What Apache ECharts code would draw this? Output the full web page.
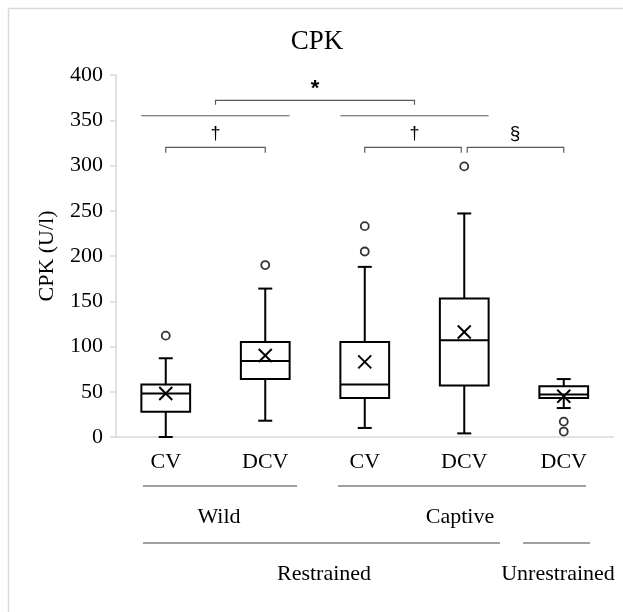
<!DOCTYPE html>
<html>
<head>
<meta charset="utf-8">
<script src="https://cdn.jsdelivr.net/npm/echarts@6/dist/echarts.min.js"></script>
<style>
  html, body { margin: 0; padding: 0; background: #fff; }
  #chart { width: 623px; height: 612px; }
</style>
</head>
<body>
<div id="chart"></div>
<script>
// CPK (U/l) by group: box = quartiles, whiskers, X = mean, circles = outliers
const categories  = ['CV', 'DCV', 'CV', 'DCV', 'DCV'];
const whiskerLow  = [0, 18, 10, 4, 32];
const quartile1   = [28, 64, 43, 57, 43];
const medians     = [48, 84, 58, 107, 47];
const quartile3   = [58, 105, 105, 153, 56];
const whiskerHigh = [87, 164, 188, 247, 64];
const means       = [48, 90, 83, 116, 45];
// [category index, value]
const outliers = [[0, 112], [1, 190], [2, 205], [2, 233], [3, 299], [4, 17], [4, 6]];

const SERIF = '"Liberation Serif", "Times New Roman", serif';
const SANS = '"Liberation Sans", Arial, sans-serif';

const boxData = categories.map((c, i) => [
  i, whiskerLow[i], quartile1[i], medians[i], quartile3[i], whiskerHigh[i], means[i]
]);

const chart = echarts.init(document.getElementById('chart'));

function renderBox(params, api) {
  const i = api.value(0);
  const pMin = api.coord([i, api.value(1)]);
  const pQ1 = api.coord([i, api.value(2)]);
  const pMed = api.coord([i, api.value(3)]);
  const pQ3 = api.coord([i, api.value(4)]);
  const pMax = api.coord([i, api.value(5)]);
  const pMean = api.coord([i, api.value(6)]);
  const cx = pMed[0];
  const bw = api.size([1, 0])[0] * 0.49;
  const cap = 7;
  const m = 6.5;
  const st = { stroke: '#000', lineWidth: 2, fill: null };
  const line = (x1, y1, x2, y2) => ({ type: 'line', shape: { x1, y1, x2, y2 }, style: st });
  return {
    type: 'group',
    children: [
      line(cx, pQ3[1], cx, pMax[1]),
      line(cx - cap, pMax[1], cx + cap, pMax[1]),
      line(cx, pQ1[1], cx, pMin[1]),
      line(cx - cap, pMin[1], cx + cap, pMin[1]),
      {
        type: 'rect',
        shape: { x: cx - bw / 2, y: pQ3[1], width: bw, height: pQ1[1] - pQ3[1] },
        style: { stroke: '#000', lineWidth: 2, fill: '#fff' }
      },
      line(cx - bw / 2, pMed[1], cx + bw / 2, pMed[1]),
      line(cx - m, pMean[1] - m, cx + m, pMean[1] + m),
      line(cx - m, pMean[1] + m, cx + m, pMean[1] - m)
    ]
  };
}

chart.setOption({
  animation: false,
  backgroundColor: '#fff',
  grid: { left: 116, top: 75, width: 497.5, bottom: 175 },
  xAxis: {
    type: 'category',
    data: categories,
    axisLine: { show: true, lineStyle: { color: '#d9d9d9', width: 1.5 } },
    axisTick: { show: false },
    axisLabel: { color: '#000', fontFamily: SERIF, fontSize: 22, margin: 14 },
    splitLine: { show: false }
  },
  yAxis: {
    type: 'value',
    min: 0, max: 400, interval: 50,
    name: 'CPK (U/l)',
    nameLocation: 'middle',
    nameRotate: 90,
    nameGap: 58,
    nameTextStyle: { color: '#000', fontFamily: SERIF, fontSize: 22 },
    axisLine: { show: true, lineStyle: { color: '#d9d9d9', width: 1.5 } },
    axisTick: { show: true, length: 6, inside: false, lineStyle: { color: '#d9d9d9', width: 1.5 } },
    axisLabel: { color: '#000', fontFamily: SERIF, fontSize: 22, margin: 13 },
    splitLine: { show: false }
  },
  series: [
    {
      type: 'custom',
      renderItem: renderBox,
      data: boxData,
      encode: { x: 0, y: [1, 2, 3, 4, 5, 6] },
      z: 2
    },
    {
      type: 'scatter',
      data: outliers,
      symbol: 'circle',
      symbolSize: 8,
      itemStyle: { color: '#fff', borderColor: '#000', borderWidth: 1.8 },
      z: 3
    }
  ]
});

// Annotations: significance brackets and group labels
const px = i => chart.convertToPixel({ xAxisIndex: 0 }, i);
const py = v => chart.convertToPixel({ yAxisIndex: 0 }, v);
const BR = '#595959';
const GL = '#808080';
const bracket = (x1, x2, yTop, yLeg) => ({
  type: 'polyline',
  shape: { points: [[x1, py(yLeg)], [x1, py(yTop)], [x2, py(yTop)], [x2, py(yLeg)]] },
  style: { stroke: BR, lineWidth: 1.2, fill: null }
});
const hline = (x1, x2, y, color, w) => ({
  type: 'line', shape: { x1, y1: y, x2, y2: y }, style: { stroke: color, lineWidth: w }
});
const label = (x, y, text, font) => ({
  type: 'text', x, y,
  style: { text, font, fill: '#000', textAlign: 'center', textVerticalAlign: 'middle' }
});
const half = (px(1) - px(0)) * 0.245;

chart.setOption({
  graphic: [
    // frame
    { type: 'line', shape: { x1: 8.5, y1: 8.5, x2: 623, y2: 8.5 }, style: { stroke: '#d9d9d9', lineWidth: 1.5 } },
    { type: 'line', shape: { x1: 8.5, y1: 8.5, x2: 8.5, y2: 612 }, style: { stroke: '#d9d9d9', lineWidth: 1.5 } },
    // title
    label(317, 42, 'CPK', '27px ' + SERIF),
    // * bracket between origin groups
    bracket((px(0) + px(1)) / 2, (px(2) + px(3)) / 2, 372, 367),
    label((px(0) + px(1) + px(2) + px(3)) / 4, 89, '*', 'bold 22px ' + SANS),
    hline(px(0) - half, px(1) + half, py(355), BR, 1.2),
    hline(px(2) - half, px(3) + half, py(355), BR, 1.2),
    // CV vs DCV brackets
    bracket(px(0), px(1), 320, 314),
    label((px(0) + px(1)) / 2, 134, '\u2020', '18px ' + SANS),
    bracket(px(2), px(3) - 3, 320, 314),
    label((px(2) + px(3)) / 2, 134, '\u2020', '18px ' + SANS),
    bracket(px(3) + 3, px(4), 320, 314),
    label((px(3) + px(4)) / 2 + 1, 134, '\u00a7', '19px ' + SANS),
    // group labels
    hline(143, 297, 486, GL, 1.5),
    hline(338, 586, 486, GL, 1.5),
    label(219, 517, 'Wild', '22px ' + SERIF),
    label(460, 517, 'Captive', '22px ' + SERIF),
    hline(143, 500, 543, GL, 1.5),
    hline(523, 590, 543, GL, 1.5),
    label(324, 574, 'Restrained', '22px ' + SERIF),
    label(558, 574, 'Unrestrained', '22px ' + SERIF)
  ]
});
</script>
</body>
</html>
